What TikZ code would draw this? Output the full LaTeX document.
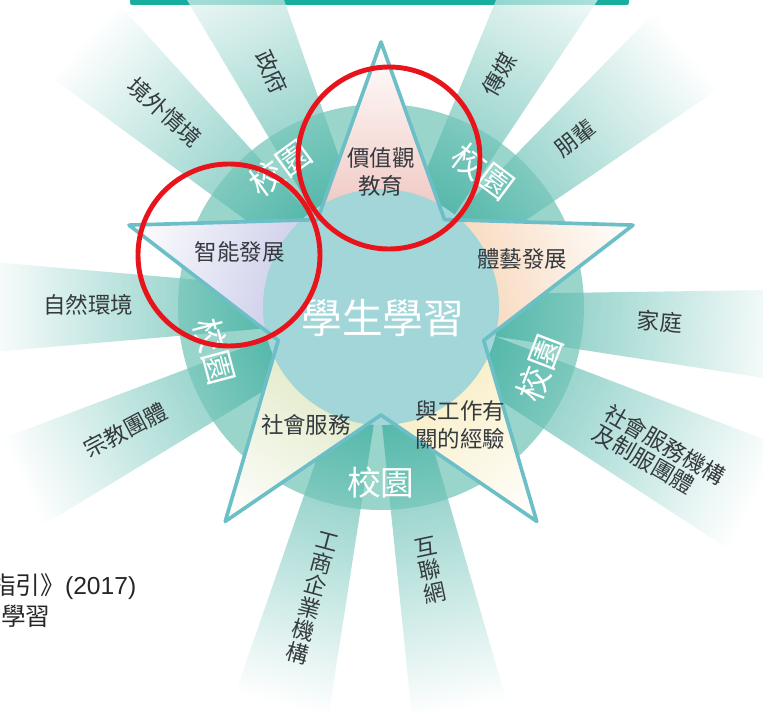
\documentclass[tikz,border=0pt]{standalone}
\usepackage{fontspec}
\setmainfont{Liberation Sans}
\newfontfamily\cjk{Noto Sans CJK TC}
\definecolor{boxteal}{HTML}{17AE9E}
\definecolor{raycol}{HTML}{2FA898}
\definecolor{ringin}{HTML}{9AD5CB}
\definecolor{ringout}{HTML}{55BBAD}
\definecolor{cball}{HTML}{A2D6D9}
\definecolor{starline}{HTML}{6CBFC7}
\definecolor{pinkfill}{HTML}{F0C6C0}
\definecolor{peachfill}{HTML}{F8D8BC}
\definecolor{yellowfill}{HTML}{F8EEC4}
\definecolor{greenfill}{HTML}{E2EAC8}
\definecolor{lavfill}{HTML}{CCCDEA}
\definecolor{labelgray}{HTML}{353A3F}
\definecolor{markred}{HTML}{E8141B}
\pgfdeclareradialshading{ringshade}{\pgfpoint{0bp}{0bp}}{color(0bp)=(ringin); color(30bp)=(ringin); color(50bp)=(ringout)}
\pgfdeclareradialshading{glowshade}{\pgfpoint{0bp}{0bp}}{color(0bp)=(cball); color(39bp)=(cball); color(50bp)=(white)}
\begin{document}
\begin{tikzpicture}[x=0.025cm, y=0.025cm, line join=round, line cap=round,
	ray/.style={transform canvas={rotate=#1}, left color=raycol, right color=white, fill opacity=0.7},
	point/.style={transform canvas={rotate=#1}},
	raylabel/.style={font=\cjk\fontsize{16}{16.5}\selectfont, text=labelgray, align=center, inner sep=0pt},
	ptlabel/.style={font=\cjk\fontsize{16}{20}\selectfont, text=labelgray, align=center, inner sep=0pt},
	campus/.style={font=\cjk\fontsize{24}{26}\selectfont, text=white, inner sep=0pt},
	redring/.style={draw=markred, line width=3.5pt}]
	\useasboundingbox (-381,-404) rectangle (382,307);
	% 中心 O
	\coordinate (O) at (0,0);
	% 上方的框
	\draw[boxteal, line width=2.9pt] (-249,304.5) rectangle (246,340);
	% 校園圓
	\shade[shading=ringshade] (O) circle (203);
	% 光線
	\shade[ray=115] (100,-20) -- (400,-50) -- (400,50) -- (100,20) -- cycle;
	\shade[ray=138] (100,-20) -- (400,-50) -- (400,50) -- (100,20) -- cycle;
	\shade[ray=62] (100,-20) -- (400,-50) -- (400,50) -- (100,20) -- cycle;
	\shade[ray=40] (100,-20) -- (400,-50) -- (400,50) -- (100,20) -- cycle;
	\shade[ray=-4] (100,-20) -- (410,-46) -- (410,46) -- (100,20) -- cycle;
	\shade[ray=-27] (100,-24) -- (420,-58) -- (420,58) -- (100,24) -- cycle;
	\shade[ray=-79] (100,-20) -- (410,-48) -- (410,48) -- (100,20) -- cycle;
	\shade[ray=-104] (100,-20) -- (410,-48) -- (410,48) -- (100,20) -- cycle;
	\shade[ray=206] (100,-20) -- (400,-48) -- (400,48) -- (100,20) -- cycle;
	\shade[ray=180] (100,-20) -- (400,-46) -- (400,46) -- (100,20) -- cycle;
	% 星形
	\fill[white] (90:265) -- (54:108) -- (18:265) -- (-18:108) -- (-54:265) -- (-90:108) -- (-126:265) -- (-162:108) -- (162:265) -- (126:108) -- cycle;
	\shade[point=90, left color=pinkfill, right color=white] (87.4,-63.5) -- (265,0) -- (87.4,63.5) -- cycle;
	\shade[point=18, left color=peachfill, right color=white] (87.4,-63.5) -- (265,0) -- (87.4,63.5) -- cycle;
	\shade[point=-54, left color=yellowfill, right color=white] (87.4,-63.5) -- (265,0) -- (87.4,63.5) -- cycle;
	\shade[point=-126, left color=greenfill, right color=white] (87.4,-63.5) -- (265,0) -- (87.4,63.5) -- cycle;
	\shade[point=162, left color=lavfill, right color=white] (87.4,-63.5) -- (265,0) -- (87.4,63.5) -- cycle;
	% 學生學習
	\shade[shading=glowshade] (O) circle (118);
	\draw[starline, line width=2.6pt] (90:265) -- (54:108) -- (18:265) -- (-18:108) -- (-54:265) -- (-90:108) -- (-126:265) -- (-162:108) -- (162:265) -- (126:108) -- cycle;
	% 校園
	\node[campus, rotate=36] (campusA) at (126:172) {校園};
	\node[campus, rotate=-37] (campusB) at (53:170) {校園};
	\node[campus, rotate=69] (campusC) at (-21:170) {校園};
	\node[campus] (campusD) at (-90:176) {校園};
	\node[campus, rotate=-75] (campusE) at (195:172) {校園};
	% 光線標籤
	\node[raylabel, rotate=-65] (govt) at (115:259) {政府};
	\node[raylabel, rotate=-42] (abroad) at (138:291) {境外情境};
	\node[raylabel, rotate=60] (media) at (63:261) {傳媒};
	\node[raylabel, rotate=38] (peers) at (41:257) {朋輩};
	\node[raylabel, rotate=-4] (family) at (-3:279) {家庭};
	\node[raylabel, rotate=-30, align=left] (social) at (-28:315) {社會服務機構\\及制服團體};
	\node[raylabel, rotate=12] (internet) at (-79.4:268) {互\\聯\\網};
	\node[raylabel, rotate=-15] (business) at (-103.3:299) {工\\商\\企\\業\\機\\構};
	\node[raylabel, rotate=28] (religion) at (205.7:284) {宗教團體};
	\node[raylabel] (nature) at (179.6:293) {自然環境};
	% 五個範疇
	\node[ptlabel] (values) at (0,135) {價值觀\\教育};
	\node[ptlabel] (intel) at (-141,55) {智能發展};
	\node[ptlabel] (arts) at (141,48) {體藝發展};
	\node[ptlabel] (service) at (-75,-118) {社會服務};
	\node[ptlabel] (work) at (79,-118) {與工作有\\關的經驗};
	\node[font=\cjk\fontsize{29}{30}\selectfont, text=white, inner sep=0pt] (learn) at (2,-11) {學生學習};
	% 左下文字
	\node[anchor=west, font=\fontsize{17.5}{19}\selectfont, text=black!85, inner sep=0pt] (guide) at (-390,-280) {{\cjk 指引》}(2017)};
	\node[anchor=west, font=\cjk\fontsize{17.5}{19}\selectfont, text=black!85, inner sep=0pt] (study) at (-380,-309) {學習};
	% 紅圈
	\draw[redring] (8,149) circle (91);
	\draw[redring] (-152,52) circle (91);
\end{tikzpicture}
\end{document}
